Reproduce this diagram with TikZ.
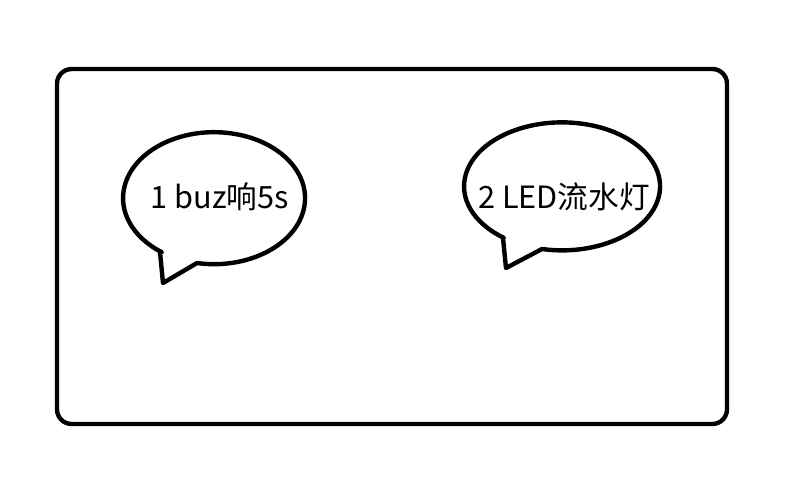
\documentclass[tikz,border=0pt]{standalone}
\usepackage{fontspec}
\setmainfont{Noto Sans CJK SC}
\begin{document}
\begin{tikzpicture}[x=0.75pt,y=-0.75pt,
  outline/.style={draw=black,line width=3.3pt,line join=round},
  label/.style={font=\fontsize{23}{26}\selectfont,inner sep=0pt}]
\useasboundingbox (0,0) rectangle (800,480);
\draw[outline,rounded corners=11pt] (57,69) rectangle (727,424);
% bubble 1
\draw[outline,fill=white] (160,252) -- (163,283) -- (197,263)
  arc[start angle=100.8,end angle=-235,x radius=91,y radius=66] -- cycle;
% bubble 2
\draw[outline,fill=white] (503,238) -- (506,268) -- (542,249)
  arc[start angle=101.8,end angle=-233.5,x radius=98,y radius=64] -- cycle;
\node[label] (t1) at (220,197) {1 buz响5s};
\node[label] (t2) at (564,197) {2 LED流水灯};
\end{tikzpicture}
\end{document}
